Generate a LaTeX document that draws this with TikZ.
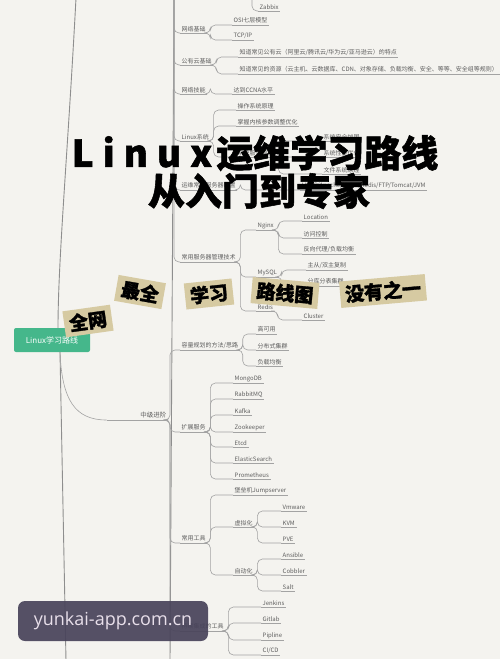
\documentclass[tikz,border=0pt]{standalone}
\usepackage{fontspec}
\setmainfont{Noto Sans CJK SC}
\newfontfamily\heavy[FakeBold=1.5]{Noto Sans CJK SC}
\newfontfamily\wmfont{Open Sans}
\usetikzlibrary{calc}
\definecolor{bg}{HTML}{F4F3EF}
\definecolor{ln}{HTML}{A3A3A3}
\definecolor{trk}{HTML}{8E8E8E}
\definecolor{tx}{HTML}{5E5E5E}
\definecolor{rootgreen}{HTML}{45B78B}
\definecolor{tan}{HTML}{D6CAA2}
\definecolor{wm}{HTML}{48435A}
\definecolor{wmtext}{HTML}{E8DFEA}
\tikzset{
  uline/.style={draw=ln, line width=0.6pt},
  item/.style={font=\fontsize{6}{6.5}\selectfont, text=tx, inner xsep=1.5pt, inner ysep=1.3pt,
    anchor=south west,
    append after command={(\tikzlastnode.south west) edge[uline] (\tikzlastnode.south east)}},
  conn/.style={draw=ln, line width=0.6pt, rounded corners=5pt},
  trunk/.style={draw=trk, line width=0.9pt},
  rootbox/.style={fill=rootgreen, text=white, rounded corners=2pt, minimum width=76pt,
    minimum height=24pt, font=\fontsize{8}{9}\selectfont, inner sep=1pt},
  sticker/.style={fill=tan, text=black, font=\heavy\bfseries\fontsize{19}{20}\selectfont,
    inner xsep=5pt, inner ysep=4pt},
  titleB/.style={text=black, font=\heavy\bfseries\fontsize{37}{38}\selectfont, inner sep=0pt},
  wmbox/.style={fill=wm, fill opacity=0.92, text opacity=1, text=wmtext, rounded corners=7pt,
    minimum width=190pt, minimum height=40pt, font=\wmfont\fontsize{18}{20}\selectfont, inner sep=0pt},
}
\newcommand\brn[2]{\draw[conn] (#1.south east) -- ++(3,0) |- (#2.south west);}
\begin{document}
\begin{tikzpicture}[x=1pt,y=-1pt]
\useasboundingbox (0,0) rectangle (500,659);
\fill[bg] (0,0) rectangle (500,659);

% trunks
\coordinate (lt) at (76,-2);
\coordinate (lb) at (66,661);
\coordinate (tt) at (174,-2);
\coordinate (tb) at (170,661);
\draw[trunk] (tt) -- (tb);

% root
\node[rootbox] (root) at (52,340) {Linux学习路线};
\draw[trunk] (lt) .. controls (68,150) and (58,260) .. ($(root.north)+(6,0)$);
\draw[trunk] ($(root.south)+(8,0)$) -- (lb);

% top branch
\node[item] (zab) at (258,11) {Zabbix};
\draw[conn] (252,-2) |- (zab.south west);

\node[item] (A1) at (180,33) {网络基础};
\node[item] (a11) at (232,25) {OSI七层模型};
\node[item] (a12) at (232,40) {TCP/IP};
\node[item] (A2) at (180,65) {公有云基础};
\node[item] (a21) at (238,57) {知道常见公有云（阿里云/腾讯云/华为云/亚马逊云）的特点};
\node[item] (a22) at (238,74) {知道常见的资源（云主机、云数据库、CDN、对象存储、负载均衡、安全、等等、安全组等规则）};
\node[item] (A3) at (180,94) {网络技能};
\node[item] (a31) at (232,94) {达到CCNA水平};
\node[item] (A4) at (180,141) {Linux系统};
\node[item] (a41) at (236,110) {操作系统原理};
\node[item] (a42) at (236,126) {掌握内核参数调整优化};
\node[item] (a43) at (236,157) {系统服务管理};
\node[item] (a431) at (322,141) {系统安全加固};
\node[item] (a432) at (322,157) {系统性能优化};
\node[item] (a433) at (322,174) {文件系统原理};
\node[item] (A5) at (180,190) {运维常用服务器配置};
\node[item] (a51) at (300,190) {LNMP/Apache/Nginx/Redis/FTP/Tomcat/JVM};
\node[item] (A6) at (180,262) {常用服务器管理技术};
\node[item] (a61) at (256,230) {Nginx};
\node[item] (a611) at (302,221) {Location};
\node[item] (a612) at (302,238) {访问控制};
\node[item] (a613) at (302,254) {反向代理/负载均衡};
\node[item] (a62) at (256,277) {MySQL};
\node[item] (a621) at (306,270) {主从/双主复制};
\node[item] (a622) at (306,286) {分库分表集群};
\node[item] (a63) at (256,311) {Redis};
\node[item] (a631) at (302,320) {Cluster};

\foreach \n in {A1,A2,A3,A4,A5,A6} {\draw[conn] (tt) |- (\n.south west);}
\brn{A1}{a11}\brn{A1}{a12}
\brn{A2}{a21}\brn{A2}{a22}
\brn{A3}{a31}
\brn{A4}{a41}\brn{A4}{a42}\brn{A4}{a43}
\brn{a43}{a431}\brn{a43}{a432}\brn{a43}{a433}
\brn{A5}{a51}
\brn{A6}{a61}\brn{A6}{a62}\brn{A6}{a63}
\brn{a61}{a611}\brn{a61}{a612}\brn{a61}{a613}
\brn{a62}{a621}\brn{a62}{a622}
\brn{a63}{a631}

% middle level
\node[item, anchor=south east, text width=58pt, align=right, font=\fontsize{6.5}{7}\selectfont] (mid) at (168,420) {中级进阶};
\draw[conn] ($(root.south)+(8,0)$) .. controls (62,400) and (75,420) .. (mid.south west);

\node[item] (A7) at (180,350) {容量规划的方法/思路};
\node[item] (a71) at (256,334) {高可用};
\node[item] (a72) at (256,350) {分布式集群};
\node[item] (a73) at (256,366) {负载均衡};
\node[item] (A8) at (180,432) {扩展服务};
\node[item] (b1) at (233,383) {MongoDB};
\node[item] (b2) at (233,399) {RabbitMQ};
\node[item] (b3) at (233,415) {Kafka};
\node[item] (b4) at (233,432) {Zookeeper};
\node[item] (b5) at (233,447) {Etcd};
\node[item] (b6) at (233,463) {ElasticSearch};
\node[item] (b7) at (233,479) {Prometheus};
\node[item] (A9) at (180,543) {常用工具};
\node[item] (c1) at (233,495) {堡垒机Jumpserver};
\node[item] (c2) at (233,527) {虚拟化};
\node[item] (c21) at (281,511) {Vmware};
\node[item] (c22) at (281,527) {KVM};
\node[item] (c23) at (281,543) {PVE};
\node[item] (c3) at (233,575) {自动化};
\node[item] (c31) at (281,559) {Ansible};
\node[item] (c32) at (281,575) {Cobbler};
\node[item] (c33) at (281,591) {Salt};
\node[item] (A10) at (180,631) {持续集成的工具};
\node[item] (d1) at (261,607) {Jenkins};
\node[item] (d2) at (261,623) {Gitlab};
\node[item] (d3) at (261,640) {Pipline};
\node[item] (d4) at (261,655) {CI/CD};

\foreach \n in {A7,A8,A9,A10} {\draw[conn] (mid.south east) -- ++(2,0) |- (\n.south west);}
\brn{A7}{a71}\brn{A7}{a72}\brn{A7}{a73}
\foreach \n in {b1,b2,b3,b4,b5,b6,b7} {\brn{A8}{\n}}
\brn{A9}{c1}\brn{A9}{c2}\brn{A9}{c3}
\brn{c2}{c21}\brn{c2}{c22}\brn{c2}{c23}
\brn{c3}{c31}\brn{c3}{c32}\brn{c3}{c33}
\foreach \n in {d1,d2,d3,d4} {\brn{A10}{\n}}

% title
\node[titleB] (t1) at (255,153) {L\hspace{9pt}i\hspace{9pt}n\hspace{9pt}u\hspace{9pt}x\hspace{4pt}运维学习路线};
\node[titleB] (t2) at (259,191) {从入门到专家};

% stickers
\node[sticker, rotate=8] (s1) at (88,321) {全网};
\node[sticker, rotate=-10] (s2) at (140,292) {最全};
\node[sticker, rotate=6] (s3) at (209,294) {学习};
\node[sticker, rotate=-5] (s4) at (285,293) {路线图};
\node[sticker, rotate=5] (s5) at (383,291) {没有之一};

% watermark
\node[wmbox] (wmk) at (113,621) {yunkai-app.com.cn};
\end{tikzpicture}
\end{document}
